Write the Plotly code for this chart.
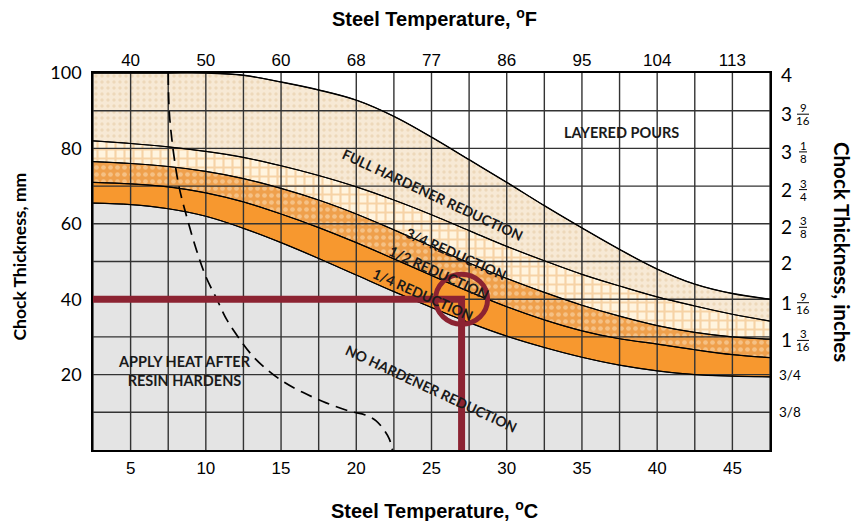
import plotly.graph_objects as go

# ---------------- data ----------------
temps_c = [2.5, 5.0, 7.5, 10.0, 12.5, 15.0, 17.5, 20.0, 22.5, 25.0,
           27.5, 30.0, 32.5, 35.0, 37.5, 40.0, 42.5, 45.0, 47.5]
# upper limit of "full hardener reduction" (above = layered pours)
full_top = [100, 100, 100, 100, 99.4, 97.6, 95.5, 92.8, 88.5, 83.0,
            77.0, 71.0, 64.8, 58.9, 53.2, 48.0, 44.0, 41.5, 40.0]
# upper limit of "3/4 reduction"
three_q_top = [82.0, 81.3, 80.4, 79.2, 77.6, 75.4, 72.8, 69.8, 66.3, 62.4,
               58.2, 54.0, 50.2, 46.6, 43.5, 40.6, 38.2, 36.0, 34.2]
# upper limit of "1/2 reduction"
half_top = [76.5, 76.0, 75.2, 73.9, 72.0, 69.4, 66.3, 62.6, 58.4, 54.0,
            49.6, 45.5, 41.8, 38.4, 35.5, 33.0, 31.2, 30.0, 29.4]
# upper limit of "1/4 reduction"
quarter_top = [71.0, 70.6, 69.8, 68.2, 65.8, 62.6, 59.0, 55.0, 50.7, 46.3,
               42.0, 38.0, 34.5, 31.6, 29.5, 28.1, 26.6, 25.3, 24.5]
# upper limit of "no hardener reduction"
none_top = [65.5, 65.1, 64.0, 62.0, 58.8, 55.0, 50.8, 46.4, 42.0, 37.8,
            33.8, 30.2, 27.2, 24.6, 22.5, 21.0, 20.0, 19.6, 19.4]

# dashed "apply heat after resin hardens" limit
dash_temp = [7.5, 7.6, 8.16, 8.72, 9.38, 10.0, 10.73, 11.4, 12.25, 13.1,
             14.05, 15.2, 16.44, 18.0, 19.55, 20.6, 21.3, 21.9, 22.2, 22.4]
dash_thick = [100, 88, 71, 62, 53, 46, 40, 34.5, 29.4, 25,
              21.4, 18, 15.3, 12.5, 10.3, 9.3, 7.8, 5, 2.9, 0]

# worked example
example_temp_c = 27.0
example_thick_mm = 40.0

# axes
x_range = [2.5, 47.5]
y_range = [0, 100]
c_ticks = [5, 10, 15, 20, 25, 30, 35, 40, 45]
f_labels = ["40", "50", "60", "68", "77", "86", "95", "104", "113"]
mm_ticks = [20, 40, 60, 80, 100]
mm_grid = [10, 20, 30, 40, 50, 60, 70, 80, 90]
inch_pos = [100, 90, 80, 70, 60, 50, 40, 30, 20, 10]
inch_labels = ["4", "3 9/16", "3 1/8", "2 3/4", "2 3/8", "2", "1 9/16", "1 3/16", "3/4", "3/8"]

# ---------------- styles ----------------
GRAY = "#E4E4E4"
ORANGE = "#F7982F"
RED = "#8C2332"
NARROW = "Liberation Sans Narrow, Arial Narrow, Liberation Sans, sans-serif"
HUMAN = "Lato, Open Sans, sans-serif"

fig = go.Figure()

# bands (bottom to top)
fig.add_trace(go.Scatter(x=temps_c, y=none_top, mode="lines", line=dict(color="black", width=1, shape="spline"),
                         fill="tozeroy", fillcolor=GRAY, hoverinfo="skip"))
fig.add_trace(go.Scatter(x=temps_c, y=quarter_top, mode="lines", line=dict(color="black", width=1, shape="spline"),
                         fill="tonexty", fillcolor=ORANGE, hoverinfo="skip"))
fig.add_trace(go.Scatter(x=temps_c, y=half_top, mode="lines", line=dict(color="black", width=1, shape="spline"),
                         fill="tonexty",
                         fillpattern=dict(shape=".", bgcolor="#EFA04C", fgcolor="#FCE2BE", size=7, solidity=0.35),
                         hoverinfo="skip"))
fig.add_trace(go.Scatter(x=temps_c, y=three_q_top, mode="lines", line=dict(color="black", width=1, shape="spline"),
                         fill="tonexty",
                         fillpattern=dict(shape="+", bgcolor="#FFF4DF", fgcolor="#EEB26E", size=9, solidity=0.42),
                         hoverinfo="skip"))
fig.add_trace(go.Scatter(x=temps_c, y=full_top, mode="lines", line=dict(color="black", width=1, shape="spline"),
                         fill="tonexty",
                         fillpattern=dict(shape=".", bgcolor="#F7E9D5", fgcolor="#E3C7A0", size=6, solidity=0.26),
                         hoverinfo="skip"))

# grid drawn above the fills
gx, gy = [], []
for t in temps_c:
    gx += [t, t, None]
    gy += [y_range[0], y_range[1], None]
for m in mm_grid:
    gx += [x_range[0], x_range[1], None]
    gy += [m, m, None]
fig.add_trace(go.Scatter(x=gx, y=gy, mode="lines", line=dict(color="#333333", width=1.4), hoverinfo="skip"))

# boundary curves redrawn over grid
for ys, w in [(none_top, 1.2), (quarter_top, 1.2), (half_top, 1.2), (three_q_top, 1.2), (full_top, 1.4)]:
    fig.add_trace(go.Scatter(x=temps_c, y=ys, mode="lines",
                             line=dict(color="black", width=w, shape="spline"), hoverinfo="skip"))

# dashed curve
fig.add_trace(go.Scatter(x=dash_temp, y=dash_thick, mode="lines",
                         line=dict(color="black", width=1.7, dash="12px,7px", shape="spline"), hoverinfo="skip"))

# worked example (red)
fig.add_trace(go.Scatter(x=[x_range[0], example_temp_c, example_temp_c],
                         y=[example_thick_mm, example_thick_mm, y_range[0]],
                         mode="lines", line=dict(color=RED, width=7), hoverinfo="skip"))

# invisible trace to activate top axis
fig.add_trace(go.Scatter(x=x_range, y=[None, None], xaxis="x2", mode="lines", hoverinfo="skip"))

fig.add_shape(type="circle", xref="x", yref="y", xsizemode="pixel", ysizemode="pixel",
              xanchor=example_temp_c, yanchor=example_thick_mm, x0=-26, x1=26, y0=-25, y1=25,
              line=dict(color=RED, width=5), layer="above")

# ---------------- text ----------------
ann = []
def lab(text, x, y, angle, size=14):
    ann.append(dict(text="<b>%s</b>" % text, x=x, y=y, xref="x", yref="y", showarrow=False,
                    xanchor="center", yanchor="middle", textangle=angle,
                    font=dict(family=HUMAN, size=size, color="#1A1A1A")))

lab("LAYERED POURS", 37.6, 84.1, 0, 14.5)
lab("FULL HARDENER REDUCTION", 25.06, 67.7, 25)
lab("3/4 REDUCTION", 26.6, 52.1, 24)
lab("1/2 REDUCTION", 25.5, 47.1, 25)
lab("1/4 REDUCTION", 24.46, 41.3, 24)
lab("NO HARDENER REDUCTION", 25.0, 16.4, 25)
lab("APPLY HEAT AFTER<br>RESIN HARDENS", 8.6, 20.9, 0, 14.5)

def title(text, x, y, angle, family, size):
    ann.append(dict(text="<b>%s</b>" % text, x=x, y=y, xref="paper", yref="paper", showarrow=False,
                    xanchor="center", yanchor="middle", textangle=angle,
                    font=dict(family=family, size=size, color="black")))

title("Steel Temperature, <sup>o</sup>F", 0.505, (450 - 18) / 377, 0, NARROW, 20)
title("Steel Temperature, <sup>o</sup>C", 0.505, (450 - 509) / 377, 0, NARROW, 20)
title("Chock Thickness, mm", (18.5 - 93) / 677, (450 - 257) / 377, -90, HUMAN, 17.5)
title("Chock Thickness, inches", (842 - 93) / 677, (450 - 252) / 377, 90, HUMAN, 20.5)

# right-hand inch labels with stacked fractions
def rlabel(text, xs, pos, ys, size):
    ann.append(dict(text=text, x=1.0, xshift=xs, y=pos, yshift=ys, xref="paper", yref="y", showarrow=False,
                    xanchor="center", yanchor="middle", font=dict(family=HUMAN, size=size, color="black")))

for pos, lbl in zip(inch_pos, inch_labels):
    parts = lbl.split(" ")
    if len(parts) == 1 and "/" in lbl:
        rlabel(lbl, 20, pos, 0, 13.5)
    elif len(parts) == 1:
        rlabel(lbl, 16, pos, -1, 19)
    else:
        whole, frac = parts
        num, den = frac.split("/")
        rlabel(whole, 16, pos, -3, 19)
        rlabel(num, 33, pos, 3, 11.5)
        rlabel(den, 33, pos, -10, 11.5)
        half_w = 6 if len(den) > 1 else 4
        fig.add_shape(type="line", xref="paper", yref="y", xsizemode="pixel", ysizemode="pixel",
                      xanchor=1.0, yanchor=pos, x0=33 - half_w, x1=33 + half_w, y0=-3.5, y1=-3.5,
                      line=dict(color="black", width=1))

fig.update_layout(
    width=868, height=521,
    margin=dict(l=93, r=98, t=73, b=71),
    paper_bgcolor="white", plot_bgcolor="white",
    showlegend=False,
    annotations=ann,
    xaxis=dict(range=x_range, tickvals=c_ticks, showgrid=False, zeroline=False,
               showline=True, mirror=True, linecolor="black", linewidth=1.5, ticks="",
               ticklabelstandoff=2,
               tickfont=dict(family=NARROW, size=17, color="black")),
    xaxis2=dict(range=x_range, overlaying="x", side="top", tickvals=c_ticks, ticktext=f_labels,
                showgrid=False, zeroline=False, showline=False, ticks="",
                ticklabelstandoff=3,
                tickfont=dict(family=NARROW, size=17, color="black")),
    yaxis=dict(range=y_range, tickvals=mm_ticks, showgrid=False, zeroline=False,
               showline=True, mirror=True, linecolor="black", linewidth=1.5, ticks="",
               ticklabelstandoff=6,
               tickfont=dict(family=HUMAN, size=18, color="black")),
)

fig.write_html("out.html", config={"displayModeBar": False},
               post_script="document.body.style.margin='0';document.body.style.overflow='hidden';")
